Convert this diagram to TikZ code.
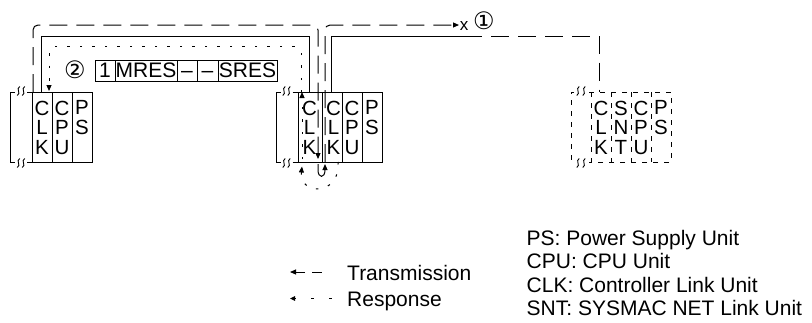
\documentclass[tikz,border=0pt]{standalone}
\usepackage{fontspec}
\setmainfont{Liberation Sans}
\newfontfamily\dvfont{DejaVu Sans}
\usetikzlibrary{arrows.meta,calc}
\begin{document}
\begin{tikzpicture}[x=1pt,y=-1pt,
  ln/.style={line width=1pt},
  slot/.style={draw, line width=1pt, minimum width=20pt, minimum height=70pt, inner sep=0pt, outer sep=0pt},
  slotnd/.style={minimum width=20pt, minimum height=70pt, inner sep=0pt, outer sep=0pt},
  rd/.style={line width=1pt, dash pattern=on 5pt off 6pt},
  letters/.style={anchor=north, inner sep=0pt, align=center, font=\fontsize{20.5}{19.5}\selectfont},
  trans/.style={ln, dash pattern=on 18pt off 9pt, rounded corners=5pt},
  netdash/.style={ln, dash pattern=on 18pt off 9pt},
  resp/.style={ln, dash pattern=on 2.5pt off 10pt, rounded corners=5pt},
  cell/.style={draw, ln, minimum height=21pt, inner sep=0pt, outer sep=0pt, anchor=west, text height=14.6pt, text depth=0pt, font=\fontsize{21}{24}\selectfont},
  legtext/.style={anchor=base west, inner sep=0pt, font=\fontsize{21}{24}\selectfont},
  circ/.style={inner sep=0pt, font=\dvfont\fontsize{24}{26}\selectfont},
  squig/.pic={\draw[line width=0.9pt] (1.2,-4.5) .. controls (-3,-2) and (3,2) .. (-1.2,4.5);},
  >={Triangle[length=6pt,width=5pt]}
]
\useasboundingbox (0,0) rectangle (812,322);

% ---------- left rack ----------
\node[slot] (lclk) at (42,127) {};
\node[slot] (lcpu) at (62,127) {};
\node[slot] (lps) at (82,127) {};
\draw[ln] (15,92) -- (10,92) -- (10,162) -- (15,162);
\draw[ln] (27,92) -- (lclk.north west);
\draw[ln] (27,162) -- (lclk.south west);
\pic at (18.5,91) {squig}; \pic at (23.5,91) {squig};
\pic at (18.5,163) {squig}; \pic at (23.5,163) {squig};
\node[letters] (lclkt) at (42,100.5) {C\\L\\K};
\node[letters] (lcput) at (62,100.5) {C\\P\\U};
\node[letters] (lpst) at (82,100.5) {P\\S};

% ---------- middle rack ----------
\node[slot, minimum width=24pt] (mclkA) at (310,127) {};
\node[slot] (mclkB) at (332,127) {};
\node[slot] (mcpu) at (352,127) {};
\node[slot] (mps) at (372,127) {};
\draw[ln] (280.5,92) -- (276,92) -- (276,162) -- (280.5,162);
\draw[ln] (292.5,92) -- (mclkA.north west);
\draw[ln] (292.5,162) -- (mclkA.south west);
\pic at (284,91) {squig}; \pic at (289,91) {squig};
\pic at (284,163) {squig}; \pic at (289,163) {squig};
\node[letters] (mclkAt) at (309.5,100.5) {C\\L\\K};
\node[letters] (mclkBt) at (333.5,100.5) {C\\L\\K};
\node[letters] (mcput) at (352,100.5) {C\\P\\U};
\node[letters] (mpst) at (372,100.5) {P\\S};

% ---------- right rack (dashed) ----------
\node[slotnd] (rclk) at (601,127) {};
\node[slotnd] (rsnt) at (621,127) {};
\node[slotnd] (rcpu) at (641,127) {};
\node[slotnd] (rps) at (661,127) {};
\draw[rd] (574,92) -- (571,92) -- (571,162) -- (574,162);
\draw[rd] (589,92) -- (rps.north east) -- (rps.south east) -- (589,162);
\foreach \s in {rclk,rsnt,rcpu,rps} {\draw[rd] (\s.north west) -- (\s.south west);}
\pic at (578,91) {squig}; \pic at (584,91) {squig};
\pic at (578,163) {squig}; \pic at (584,163) {squig};
\node[letters] (rclkt) at (601,100.5) {C\\L\\K};
\node[letters] (rsntt) at (621,100.5) {S\\N\\T};
\node[letters] (rcput) at (641,100.5) {C\\P\\U};
\node[letters] (rpst) at (661,100.5) {P\\S};

% ---------- network cables ----------
\draw[ln] ([xshift=-1pt]lclk.north) -- ++(0,-56) -| ([xshift=-1pt]mclkA.north);
\coordinate (brk) at (464,36);
\draw[ln] ([xshift=-1pt]mclkB.north) |- (brk);
\draw[netdash] (brk) -| ([xshift=-1.5pt]rclk.north);

% ---------- transmission ----------
\coordinate (xmark) at (459,25);
\draw[trans,->] ([xshift=1pt]lclk.north west) -- ++(0,-67) -| ([xshift=-4pt,yshift=3pt]mclkA.south east);
\coordinate (ua) at (318,164);
\coordinate (ub) at (325,164);
\draw[ln,->] (ua) -- (318,170) .. controls (318,178.5) and (325,178.5) .. (325,170) -- (ub);
\draw[trans,->] ([xshift=3pt]mclkB.south west) |- (xmark);
\node[inner sep=0pt, font=\fontsize{17}{18}\selectfont] (xlbl) at (464,26.5) {x};
\node[circ] (n1) at (484,20.5) {①};

% ---------- response ----------
\draw[resp,->] ([xshift=-4pt]mclkB.south east) .. controls (341,196) and (299,196) .. (302,166.5);
\draw[resp,->] (302,159) -- ([xshift=4pt]mclkA.north west);
\coordinate (rs) at (301,92.5);
\coordinate (re) at ([xshift=-3pt,yshift=1pt]lclk.north east);
\draw[resp,->] (rs) -- (rs |- 0,46.5) -- (re |- 0,46.5) -- (re);

% ---------- message frame ----------
\node[circ] (n2) at (75,70) {②};
\node[cell, minimum width=20pt] (b1) at (95,70.5) {1};
\node[cell, minimum width=62pt] (b2) at (b1.east) {MRES};
\node[cell, minimum width=20pt] (b3) at (b2.east) {--};
\node[cell, minimum width=21pt] (b4) at (b3.east) {--};
\node[cell, minimum width=59pt] (b5) at (b4.east) {SRES};

% ---------- legend ----------
\coordinate (lta) at (290,272);
\draw[ln,->] (305,272) -- (lta);
\draw[ln] (312,272) -- (322,272);
\coordinate (lra) at (290,298.5);
\draw[ln,-{Triangle[length=5pt,width=4.5pt]}] (295,298.5) -- (lra);
\draw[ln] (311,298.5) -- (313.5,298.5);
\draw[ln] (329,298.5) -- (331.5,298.5);
\node[legtext] (ltr) at (347,280) {Transmission};
\node[legtext] (lrs) at (347,306.5) {Response};

\node[legtext] (k1) at (526.5,245) {PS: Power Supply Unit};
\node[legtext] (k2) at (526.5,268.5) {CPU: CPU Unit};
\node[legtext] (k3) at (526.5,292) {CLK: Controller Link Unit};
\node[legtext] (k4) at (526.5,315.5) {SNT: SYSMAC NET Link Unit};
\end{tikzpicture}
\end{document}
